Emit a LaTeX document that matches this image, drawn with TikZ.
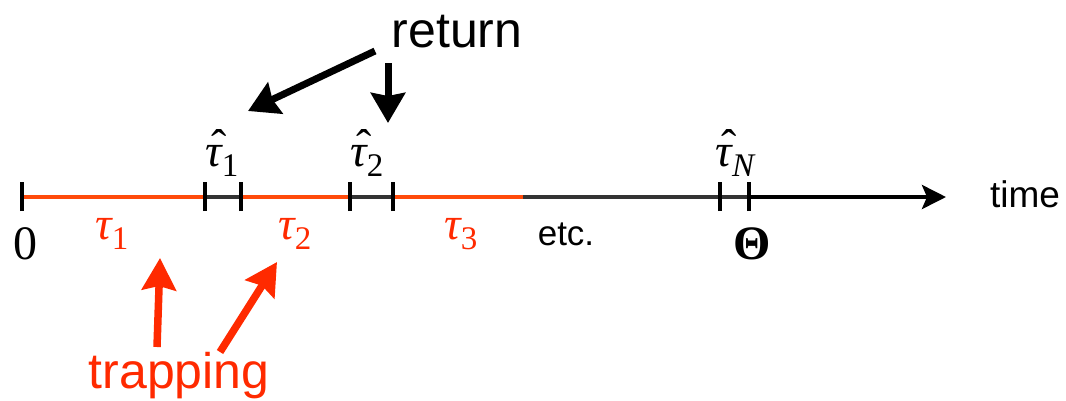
\documentclass[tikz,border=0pt]{standalone}
\usepackage{fontspec}
\setsansfont{Liberation Sans}
\newfontfamily\tms{Liberation Serif}
\usetikzlibrary{arrows.meta}
\definecolor{axorange}{HTML}{FF4A0A}
\definecolor{trapred}{HTML}{FF2A00}
\definecolor{axgray}{HTML}{333333}
\newcommand{\tsub}[1]{\raisebox{-0.22em}{\fontsize{33}{36}\selectfont #1}}
\newcommand{\htau}{\makebox[0pt][l]{\hspace{0.13em}\raisebox{0.10em}{\upshape ˆ}}τ}
\begin{document}
\begin{tikzpicture}[x=1pt,y=-1pt,
  seg/.style={line width=4pt},
  tickmark/.style={line width=4pt, black},
  mathlbl/.style={anchor=base, inner sep=0pt, font=\tms\itshape\fontsize{46}{50}\selectfont},
  bigtxt/.style={anchor=base, inner sep=0pt, font=\sffamily\fontsize{50}{60}\selectfont},
  midtxt/.style={anchor=base, inner sep=0pt, font=\sffamily\fontsize{37}{44}\selectfont},
  retarrow/.style={line width=7pt, black, -{Stealth[length=30pt,width=34pt,inset=3pt]}},
  traparrow/.style={line width=7.5pt, trapred, -{Stealth[length=32pt,width=34pt,inset=4pt]}},
  axarrow/.style={line width=4pt, black, -{Stealth[length=24pt,width=24pt,inset=5pt]}}]
\useasboundingbox (0,0) rectangle (1066,400);
% axis coordinates
\coordinate (t0) at (22,197);
\coordinate (a1) at (205,197);
\coordinate (b1) at (241,197);
\coordinate (a2) at (350,197);
\coordinate (b2) at (393,197);
\coordinate (oe) at (523,197);
\coordinate (aN) at (720,197);
\coordinate (th) at (749,197);
\coordinate (tip) at (946,197);
% segments
\draw[seg, axorange] (t0) -- (a1);
\draw[seg, axgray] (a1) -- (b1);
\draw[seg, axorange] (b1) -- (a2);
\draw[seg, axgray] (a2) -- (b2);
\draw[seg, axorange] (b2) -- (oe);
\draw[seg, axgray] (oe) -- (th);
\draw[axarrow] (th) -- (tip);
% ticks
\foreach \c in {t0,a1,b1,a2,b2,aN,th}
  \draw[tickmark] ([yshift=-14pt]\c) -- ([yshift=15pt]\c);
% labels
\node[midtxt] (time) at (1025,207) {time};
\node[midtxt, font=\sffamily\fontsize{35}{42}\selectfont] (etc) at (566,245) {etc.};
\node[mathlbl, font=\tms\fontsize{48}{52}\selectfont] (zero) at (25,259) {0};
\node[mathlbl, font=\tms\bfseries\fontsize{48}{52}\selectfont] (theta) at (752,259) {Θ};
\node[mathlbl] (h1) at (222,166) {\htau\tsub{\upshape 1}};
\node[mathlbl] (h2) at (367,166) {\htau\tsub{\upshape 2}};
\node[mathlbl] (hN) at (735,166) {\htau\tsub{N}};
\node[mathlbl, text=trapred] (r1) at (112,239) {τ\tsub{\upshape 1}};
\node[mathlbl, text=trapred] (r2) at (295,239) {τ\tsub{\upshape 2}};
\node[mathlbl, text=trapred] (r3) at (461,239) {τ\tsub{\upshape 3}};
\node[bigtxt] (ret) at (457,47) {return};
\node[bigtxt, text=trapred] (trap) at (179,388) {trapping};
% arrows
\coordinate (ret1s) at (375,51);
\coordinate (ret1e) at (248,111);
\coordinate (ret2s) at (388,63);
\coordinate (ret2e) at (388,123);
\coordinate (trap1s) at (157,347);
\coordinate (trap1e) at (160,258);
\coordinate (trap2s) at (220,352);
\coordinate (trap2e) at (277,262);
\draw[retarrow] (ret1s) -- (ret1e);
\draw[retarrow] (ret2s) -- (ret2e);
\draw[traparrow] (trap1s) -- (trap1e);
\draw[traparrow] (trap2s) -- (trap2e);
\end{tikzpicture}
\end{document}
